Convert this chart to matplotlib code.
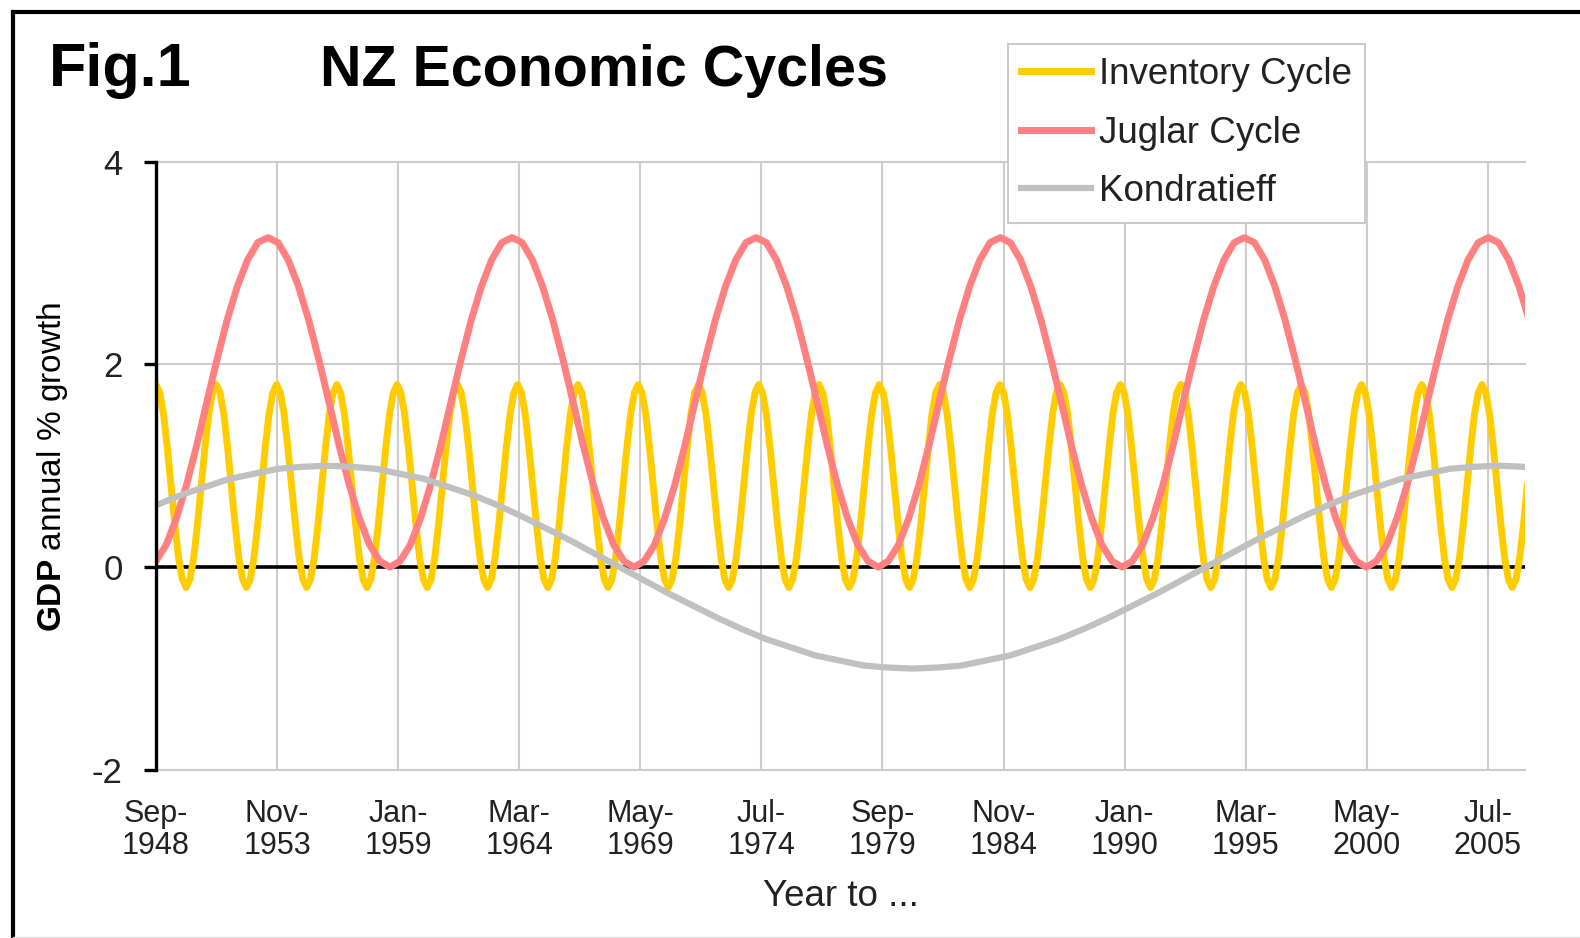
import numpy as np
import matplotlib
matplotlib.use("Agg")
import matplotlib.pyplot as plt
from matplotlib.lines import Line2D

plt.rcParams['font.family'] = ['Liberation Sans', 'DejaVu Sans']
plt.rcParams['mathtext.fontset'] = 'custom'
plt.rcParams['mathtext.rm'] = 'Liberation Sans'
plt.rcParams['mathtext.bf'] = 'Liberation Sans:bold'

# ---------------- data ----------------
# category axis: months after Sep-1948
tick_months = [0, 62, 124, 186, 248, 310, 372, 434, 496, 558, 620, 682]
tick_labels = ["Sep-\n1948", "Nov-\n1953", "Jan-\n1959", "Mar-\n1964",
               "May-\n1969", "Jul-\n1974", "Sep-\n1979", "Nov-\n1984",
               "Jan-\n1990", "Mar-\n1995", "May-\n2000", "Jul-\n2005"]
series_names = ["Inventory Cycle", "Juglar Cycle", "Kondratieff"]

# Inventory cycle, sampled every ~1.93 months (one row per cycle)
inventory_step = 1.929
inventory = [
    1.80, 1.72, 1.51, 1.18, 0.80, 0.42, 0.09, -0.12, -0.20, -0.12, 0.09, 0.42, 0.80, 1.18, 1.51, 1.72,
    1.80, 1.72, 1.51, 1.18, 0.80, 0.42, 0.09, -0.12, -0.20, -0.12, 0.09, 0.42, 0.80, 1.18, 1.51, 1.72,
    1.80, 1.72, 1.51, 1.18, 0.80, 0.42, 0.09, -0.12, -0.20, -0.12, 0.09, 0.42, 0.80, 1.18, 1.51, 1.72,
    1.80, 1.72, 1.51, 1.18, 0.80, 0.42, 0.09, -0.12, -0.20, -0.12, 0.09, 0.42, 0.80, 1.18, 1.51, 1.72,
    1.80, 1.72, 1.51, 1.18, 0.80, 0.42, 0.09, -0.12, -0.20, -0.12, 0.09, 0.42, 0.80, 1.18, 1.51, 1.72,
    1.80, 1.72, 1.51, 1.18, 0.80, 0.42, 0.09, -0.12, -0.20, -0.12, 0.09, 0.42, 0.80, 1.18, 1.51, 1.72,
    1.80, 1.72, 1.51, 1.18, 0.80, 0.42, 0.09, -0.12, -0.20, -0.12, 0.09, 0.42, 0.80, 1.18, 1.51, 1.72,
    1.80, 1.72, 1.51, 1.18, 0.80, 0.42, 0.09, -0.12, -0.20, -0.12, 0.09, 0.42, 0.80, 1.18, 1.51, 1.72,
    1.80, 1.72, 1.51, 1.18, 0.80, 0.42, 0.09, -0.12, -0.20, -0.12, 0.09, 0.42, 0.80, 1.18, 1.51, 1.72,
    1.80, 1.72, 1.51, 1.18, 0.80, 0.42, 0.09, -0.12, -0.20, -0.12, 0.09, 0.42, 0.80, 1.18, 1.51, 1.72,
    1.80, 1.72, 1.51, 1.18, 0.80, 0.42, 0.09, -0.12, -0.20, -0.12, 0.09, 0.42, 0.80, 1.18, 1.51, 1.72,
    1.80, 1.72, 1.51, 1.18, 0.80, 0.42, 0.09, -0.12, -0.20, -0.12, 0.09, 0.42, 0.80, 1.18, 1.51, 1.72,
    1.80, 1.72, 1.51, 1.18, 0.80, 0.42, 0.09, -0.12, -0.20, -0.12, 0.09, 0.42, 0.80, 1.18, 1.51, 1.72,
    1.80, 1.72, 1.51, 1.18, 0.80, 0.42, 0.09, -0.12, -0.20, -0.12, 0.09, 0.42, 0.80, 1.18, 1.51, 1.72,
    1.80, 1.72, 1.51, 1.18, 0.80, 0.42, 0.09, -0.12, -0.20, -0.12, 0.09, 0.42, 0.80, 1.18, 1.51, 1.72,
    1.80, 1.72, 1.51, 1.18, 0.80, 0.42, 0.09, -0.12, -0.20, -0.12, 0.09, 0.42, 0.80, 1.18, 1.51, 1.72,
    1.80, 1.72, 1.51, 1.18, 0.80, 0.42, 0.09, -0.12, -0.20, -0.12, 0.09, 0.42, 0.80, 1.18, 1.51, 1.72,
    1.80, 1.72, 1.51, 1.18, 0.80, 0.42, 0.09, -0.12, -0.20, -0.12, 0.09, 0.42, 0.80, 1.18, 1.51, 1.72,
    1.80, 1.72, 1.51, 1.18, 0.80, 0.42, 0.09, -0.12, -0.20, -0.12, 0.09, 0.42, 0.80, 1.18, 1.51, 1.72,
    1.80, 1.72, 1.51, 1.18, 0.80, 0.42, 0.09, -0.12, -0.20, -0.12, 0.09, 0.42, 0.80, 1.18, 1.51, 1.72,
    1.80, 1.72, 1.51, 1.18, 0.80, 0.42, 0.09, -0.12, -0.20, -0.12, 0.09, 0.42, 0.80, 1.18, 1.51, 1.72,
    1.80, 1.72, 1.51, 1.18, 0.80, 0.42, 0.09, -0.12, -0.20, -0.12, 0.09, 0.42, 0.80, 1.18, 1.51, 1.72,
    1.80, 1.72, 1.51, 1.18, 0.80, 0.42, 0.09, -0.12, -0.20, -0.12, 0.09, 0.42, 0.80,
]

# Juglar cycle, sampled every ~5.2 months, first sample just before Sep-1948
juglar_step = 5.208
juglar_start = -5.2
juglar = [
    0.00, 0.06, 0.22, 0.48, 0.81, 1.20, 1.63, 2.05, 2.44, 2.77, 3.03, 3.20, 3.25, 3.20, 3.03, 2.77, 2.44, 2.05, 1.63, 1.20, 0.81, 0.48, 0.22, 0.06,
    0.00, 0.06, 0.22, 0.48, 0.81, 1.20, 1.63, 2.05, 2.44, 2.77, 3.03, 3.20, 3.25, 3.20, 3.03, 2.77, 2.44, 2.05, 1.63, 1.20, 0.81, 0.48, 0.22, 0.06,
    0.00, 0.06, 0.22, 0.48, 0.81, 1.20, 1.63, 2.05, 2.44, 2.77, 3.03, 3.20, 3.25, 3.20, 3.03, 2.77, 2.44, 2.05, 1.63, 1.20, 0.81, 0.48, 0.22, 0.06,
    0.00, 0.06, 0.22, 0.48, 0.81, 1.20, 1.63, 2.05, 2.44, 2.77, 3.03, 3.20, 3.25, 3.20, 3.03, 2.77, 2.44, 2.05, 1.63, 1.20, 0.81, 0.48, 0.22, 0.06,
    0.00, 0.06, 0.22, 0.48, 0.81, 1.20, 1.63, 2.05, 2.44, 2.77, 3.03, 3.20, 3.25, 3.20, 3.03, 2.77, 2.44, 2.05, 1.63, 1.20, 0.81, 0.48, 0.22, 0.06,
    0.00, 0.06, 0.22, 0.48, 0.81, 1.20, 1.63, 2.05, 2.44, 2.77, 3.03, 3.20, 3.25, 3.20, 3.03, 2.77, 2.44,
]

# Kondratieff wave, sampled every 12.5 months
kondratieff_step = 12.5
kondratieff = [
    0.61, 0.71, 0.79, 0.87, 0.92, 0.97, 0.99, 1.00, 0.99, 0.97, 0.92, 0.87,
    0.79, 0.71, 0.61, 0.50, 0.38, 0.26, 0.13, 0.00, -0.13, -0.26, -0.38, -0.50,
    -0.61, -0.71, -0.79, -0.87, -0.92, -0.97, -0.99, -1.00, -0.99, -0.97, -0.92, -0.87,
    -0.79, -0.71, -0.61, -0.50, -0.38, -0.26, -0.13, 0.00, 0.13, 0.26, 0.38, 0.50,
    0.61, 0.71, 0.79, 0.87, 0.92, 0.97, 0.99, 1.00, 0.99, 0.97,
]

inv_x = np.arange(len(inventory)) * inventory_step
jug_x = juglar_start + np.arange(len(juglar)) * juglar_step
kon_x = np.arange(len(kondratieff)) * kondratieff_step

# ---------------- figure ----------------
W, H = 1580, 938
fig = plt.figure(figsize=(W / 100, H / 100), dpi=100)
fig.patch.set_facecolor('white')

ax_left, ax_right, ax_top, ax_bottom = 156, 1525, 161.5, 770
ax = fig.add_axes([ax_left / W, 1 - ax_bottom / H,
                   (ax_right - ax_left) / W, (ax_bottom - ax_top) / H])
ax.set_xlim(0, 701)
ax.set_ylim(-2, 4)

grid_c = '#cccccc'
for y in [4, 2, -2]:
    ax.axhline(y, color=grid_c, lw=1.5, zorder=0.5, clip_on=False)
for m in tick_months[1:]:
    ax.axvline(m, color=grid_c, lw=1.5, zorder=0.5)
ax.axhline(0, color='black', lw=2.6, zorder=1)

l1, = ax.plot(inv_x, inventory, color='#FFCC00', lw=5.0, zorder=3,
              solid_joinstyle='round', label=series_names[0])
l2, = ax.plot(jug_x, juglar, color='#FF8080', lw=5.0, zorder=4,
              solid_joinstyle='round', label=series_names[1])
l3, = ax.plot(kon_x, kondratieff, color='#C0C0C0', lw=4.5, zorder=5,
              solid_joinstyle='round', label=series_names[2])

for s in ['top', 'right', 'bottom']:
    ax.spines[s].set_visible(False)
ax.spines['left'].set_linewidth(2.4)
ax.spines['left'].set_color('black')
ax.spines['left'].set_zorder(6)

ax.set_yticks([-2, 0, 2, 4])
ax.set_yticklabels(['-2', '0', '2', '4'])
ax.tick_params(axis='y', direction='out', length=9, width=2.4, pad=15,
               labelsize=25, colors='black')
for t in ax.get_yticklabels():
    t.set_color('#222222')
ax.set_xticks(tick_months)
ax.set_xticklabels(tick_labels)
ax.tick_params(axis='x', length=0, pad=21)
for t in ax.get_xticklabels():
    t.set_fontfamily(['Liberation Sans Narrow', 'Liberation Sans'])
    t.set_fontsize(22)
    t.set_linespacing(1.08)
    t.set_color('#222222')

# legend
leg = ax.legend(handles=[l1, l2, l3], loc='upper left',
                bbox_to_anchor=(1008 / W, 1 - 44 / H),
                bbox_transform=fig.transFigure,
                fontsize=26.5, frameon=True, fancybox=False, framealpha=1,
                edgecolor='#c0c0c0', handlelength=1.9, handletextpad=0.2,
                labelspacing=0.64, borderpad=0.36, borderaxespad=0)
leg.get_frame().set_linewidth(1.2)
leg.set_zorder(10)
for t in leg.get_texts():
    t.set_color('#222222')

# titles and axis labels
fig.text(48.5 / W, 1 - 86 / H, 'Fig.1', fontsize=44, fontweight='bold',
         va='baseline', ha='left')
fig.text(320.5 / W, 1 - 86 / H, 'NZ Economic Cycles', fontsize=41.3,
         fontweight='bold', va='baseline', ha='left')
fig.text(52.5 / W, 1 - 467 / H, r'$\mathbf{GDP}$ annual % growth',
         rotation=90, fontsize=24, ha='center', va='center')
fig.text(841 / W, 1 - 896 / H, 'Year to ...', fontsize=26.5,
         ha='center', va='center', color='#222222')

# outer frame (top and left edges visible)
fig.add_artist(Line2D([12.5 / W, 12.5 / W], [0, 1 - 12 / H],
                      transform=fig.transFigure, color='black', lw=3))
fig.add_artist(Line2D([12.5 / W, 1], [1 - 12 / H, 1 - 12 / H],
                      transform=fig.transFigure, color='black', lw=3))
fig.add_artist(Line2D([12.5 / W, 1], [0.6 / H, 0.6 / H],
                      transform=fig.transFigure, color='#dddddd', lw=1))

fig.savefig('out.png', dpi=100)
